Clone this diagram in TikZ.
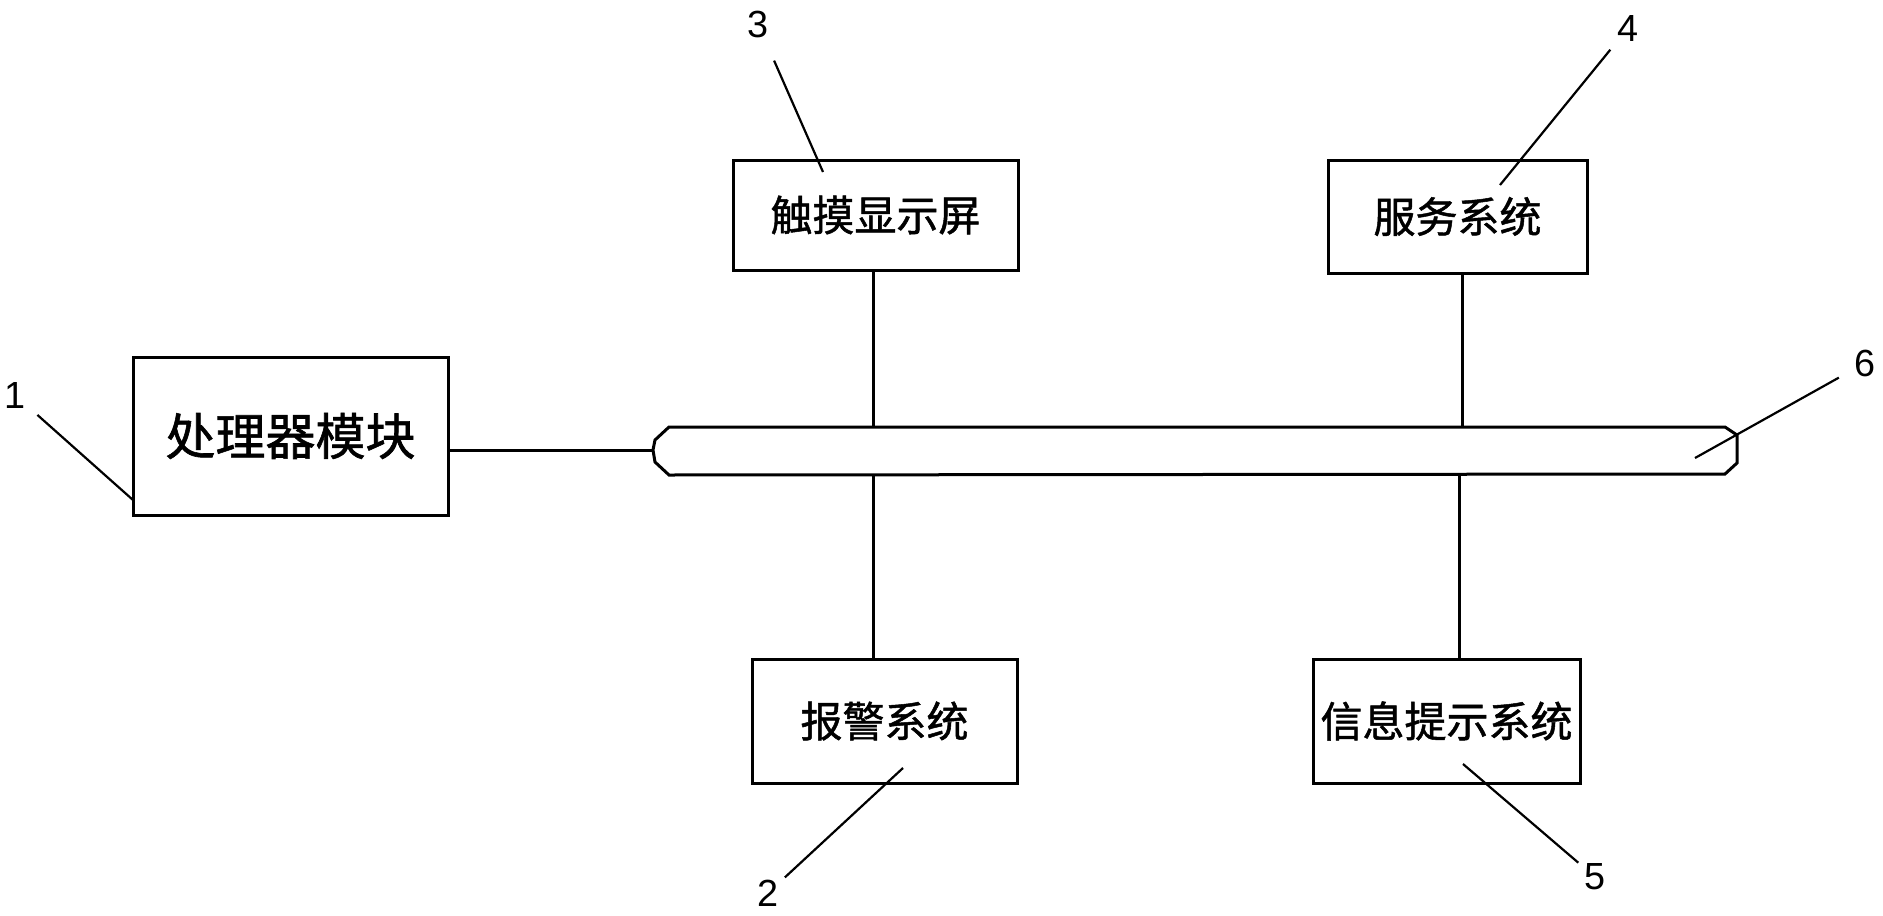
\documentclass[tikz,border=0pt]{standalone}
\usepackage{fontspec}
\setmainfont{Liberation Sans}
\newfontfamily\cjk[FakeBold=1.2]{Noto Sans CJK SC}
\usetikzlibrary{calc}
\tikzset{
  box/.style={draw, line width=1.5pt, inner sep=0pt, font=\cjk\fontsize{21}{21}\selectfont},
  num/.style={inner sep=0pt, font=\fontsize{18.9}{19}\selectfont},
  lead/.style={line width=1.1pt},
  wire/.style={line width=1.5pt}
}

\begin{document}
\begin{tikzpicture}[x=0.5pt, y=-0.5pt]
        \useasboundingbox (0,0) rectangle (1883,915);
        % boxes
        \node[box, minimum width=157.5pt, minimum height=79pt, font=\cjk\fontsize{25}{25}\selectfont] (proc) at (290.5,436) {处理器模块};
        \node[box, minimum width=142.5pt, minimum height=55pt] (touch) at (875.5,215) {触摸显示屏};
        \node[box, minimum width=129.5pt, minimum height=56.5pt] (serv) at (1457.5,216.5) {服务系统};
        \node[box, minimum width=132.5pt, minimum height=62pt] (alarm) at (884.5,721) {报警系统};
        \node[box, minimum width=133.5pt, minimum height=62pt] (info) at (1446.5,721) {信息提示系统};
        % bus
        \draw[wire] (669,427) -- (1725,427) -- (1737,435) -- (1737,463) -- (1725,474)
            -- (669,475) -- (655,462) -- (653,450) -- (655,440) -- cycle;
        \coordinate (busL) at (653,450);
        \coordinate (b3) at (873,427);
        \coordinate (b4) at (1462,427);
        \coordinate (b2) at (873,474);
        \coordinate (b5) at (1459,474);
        % connectors
        \draw[wire] (proc.east |- busL) -- (busL);
        \draw[wire] (touch.south -| b3) -- (b3);
        \draw[wire] (serv.south -| b4) -- (b4);
        \draw[wire] (alarm.north -| b2) -- (b2);
        \draw[wire] (info.north -| b5) -- (b5);
        % labels
        \node[num] (n1) at (15,395) {1};
        \node[num] (n2) at (768,893) {2};
        \node[num] (n3) at (758,24) {3};
        \node[num] (n4) at (1628,28) {4};
        \node[num] (n5) at (1595,877) {5};
        \node[num] (n6) at (1865,363) {6};
        \coordinate (t1) at (133,500);
        \coordinate (t2) at (903,768);
        \coordinate (t3) at (823,172);
        \coordinate (t4) at (1500,185);
        \coordinate (t5) at (1463,764);
        \coordinate (t6) at (1695,458);
        \draw[lead, shorten <=15pt] (n1.center) -- (t1);
        \draw[lead, shorten <=11.5pt] (n2.center) -- (t2);
        \draw[lead, shorten <=20pt] (n3.center) -- (t3);
        \draw[lead, shorten <=14pt] (n4.center) -- (t4);
        \draw[lead, shorten <=11pt] (n5.center) -- (t5);
        \draw[lead, shorten <=15pt] (n6.center) -- (t6);
    \end{tikzpicture}
\end{document}
